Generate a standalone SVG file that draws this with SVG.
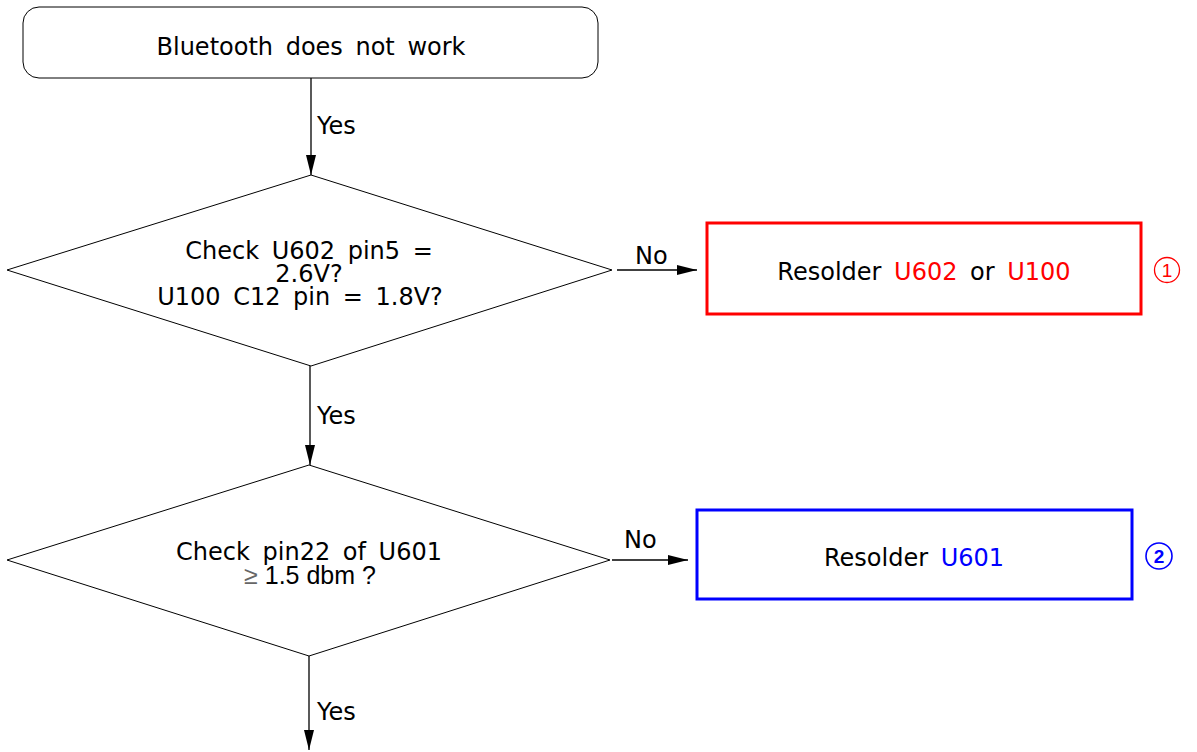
<svg xmlns="http://www.w3.org/2000/svg" width="1197" height="752" viewBox="0 0 1197 752">
<defs>
<marker id="ah" viewBox="0 0 20 10" refX="20" refY="5" markerWidth="20" markerHeight="10" markerUnits="userSpaceOnUse" orient="auto">
<path d="M0,0 L20,5 L0,10 Z" fill="#000"/>
</marker>
<style>
.t{font-family:"DejaVu Sans",Verdana,sans-serif;font-size:24px;fill:#000;word-spacing:5px}
.c{text-anchor:middle}
.shape{fill:#fff;stroke:#000;stroke-width:1}
.ln{stroke:#000;stroke-width:1.3;fill:none;marker-end:url(#ah)}
.red{fill:#f00}
.blue{fill:#00f}
.num{font-family:"Liberation Sans",Arial,sans-serif;font-size:19px;text-anchor:middle}
</style>
</defs>
<rect width="1197" height="752" fill="#fff"/>
<g id="connectors">
<line class="ln" x1="311" y1="78" x2="311" y2="175"/>
<text class="t" x="317" y="134">Yes</text>
<line class="ln" x1="617" y1="270" x2="697" y2="270"/>
<text class="t" x="635" y="264">No</text>
<line class="ln" x1="310" y1="366" x2="310" y2="465"/>
<text class="t" x="317" y="424">Yes</text>
<line class="ln" x1="612" y1="560" x2="688" y2="560"/>
<text class="t" x="624" y="548">No</text>
<line class="ln" x1="309" y1="656" x2="309" y2="750"/>
<text class="t" x="317" y="720">Yes</text>
</g>
<g id="start">
<rect class="shape" x="23" y="7" width="575" height="71" rx="16"/>
<text class="t c" x="311" y="55">Bluetooth does not work</text>
</g>
<g id="check1">
<polygon class="shape" points="311,175 612,270 311,366 7,270"/>
<text class="t c" x="309" y="259">Check U602 pin5 =</text>
<text class="t c" x="309" y="282">2.6V?</text>
<text class="t c" x="300" y="305">U100 C12 pin = 1.8V?</text>
</g>
<g id="resolder1">
<rect x="707" y="223" width="434" height="91" fill="#fff" stroke="#f00" stroke-width="3"/>
<text class="t c" x="924" y="280">Resolder <tspan class="red">U602</tspan> or <tspan class="red">U100</tspan></text>
<circle cx="1167" cy="270" r="12.5" fill="none" stroke="#f00" stroke-width="1.3"/>
<text class="num red" x="1167" y="277">1</text>
</g>
<g id="check2">
<polygon class="shape" points="309,465 610,560 309,656 7,560"/>
<text class="t c" x="309" y="560">Check pin22 of U601</text>
<text x="310" y="584" text-anchor="middle" font-family="Liberation Sans,Arial,sans-serif" font-size="25"><tspan fill="#666">≥</tspan> 1.5 dbm ?</text>
</g>
<g id="resolder2">
<rect x="697" y="510" width="435" height="89" fill="#fff" stroke="#00f" stroke-width="3"/>
<text class="t c" x="914" y="566">Resolder <tspan class="blue">U601</tspan></text>
<circle cx="1159" cy="556" r="13" fill="none" stroke="#00f" stroke-width="1.6"/>
<text class="num blue" x="1159" y="563" font-weight="bold">2</text>
</g>
</svg>
